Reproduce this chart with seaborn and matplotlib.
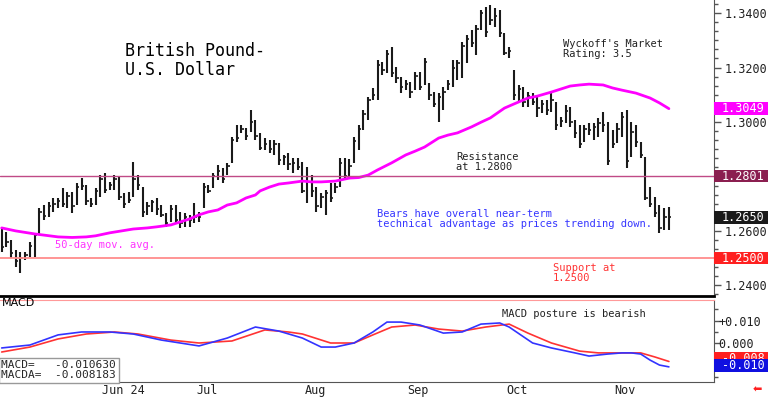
"""
GBP/USD daily bar chart with 50-day MA, resistance/support lines and a MACD panel.
"""
import numpy as np
import pandas as pd
import matplotlib
matplotlib.use("Agg")
import matplotlib.pyplot as plt
import seaborn as sns
from matplotlib.patches import Rectangle
from matplotlib.transforms import blended_transform_factory
from matplotlib.ticker import MultipleLocator

# ---------- data ----------
highs = [
    1.2611, 1.2596, 1.2567, 1.2530, 1.2523, 1.2523, 1.2560, 1.2593, 1.2684, 1.2695,
    1.2706, 1.2721, 1.2721, 1.2758, 1.2743, 1.2743, 1.2776, 1.2794, 1.2769, 1.2721,
    1.2758, 1.2805, 1.2813, 1.2780, 1.2805, 1.2798, 1.2739, 1.2743, 1.2853, 1.2805,
    1.2761, 1.2706, 1.2714, 1.2721, 1.2695, 1.2666, 1.2695, 1.2695, 1.2670, 1.2666,
    1.2659, 1.2703, 1.2670, 1.2776, 1.2769, 1.2813, 1.2842, 1.2831, 1.2850, 1.2945,
    1.2989, 1.2989, 1.2978, 1.3044, 1.3007, 1.2960, 1.2941, 1.2934, 1.2934, 1.2923,
    1.2879, 1.2886, 1.2868, 1.2868, 1.2853, 1.2835, 1.2805, 1.2761, 1.2739, 1.2750,
    1.2776, 1.2776, 1.2868, 1.2868, 1.2864, 1.2945, 1.2989, 1.3044, 1.3092, 1.3125,
    1.3228, 1.3220, 1.3264, 1.3275, 1.3202, 1.3165, 1.3154, 1.3147, 1.3183, 1.3183,
    1.3235, 1.3143, 1.3110, 1.3106, 1.3128, 1.3154, 1.3228, 1.3228, 1.3294, 1.3319,
    1.3338, 1.3356, 1.3411, 1.3422, 1.3429, 1.3418, 1.3411, 1.3327, 1.3275, 1.3191,
    1.3136, 1.3128, 1.3110, 1.3106, 1.3092, 1.3081, 1.3081, 1.3106, 1.3073, 1.3018,
    1.3062, 1.3055, 1.3007, 1.2989, 1.2989, 1.2996, 1.2996, 1.3015, 1.3037, 1.3000,
    1.2971, 1.2996, 1.3037, 1.3044, 1.3000, 1.2989, 1.2927, 1.2872, 1.2761, 1.2725,
    1.2695, 1.2684, 1.2688,
]
lows = [
    1.2523, 1.2541, 1.2501, 1.2468, 1.2446, 1.2494, 1.2505, 1.2505, 1.2585, 1.2640,
    1.2651, 1.2670, 1.2684, 1.2688, 1.2684, 1.2666, 1.2695, 1.2750, 1.2695, 1.2688,
    1.2695, 1.2725, 1.2739, 1.2750, 1.2750, 1.2714, 1.2684, 1.2703, 1.2725, 1.2750,
    1.2651, 1.2659, 1.2670, 1.2659, 1.2651, 1.2615, 1.2633, 1.2629, 1.2611, 1.2615,
    1.2615, 1.2629, 1.2633, 1.2684, 1.2739, 1.2758, 1.2787, 1.2776, 1.2805, 1.2850,
    1.2927, 1.2960, 1.2934, 1.2963, 1.2934, 1.2897, 1.2897, 1.2886, 1.2879, 1.2842,
    1.2842, 1.2824, 1.2813, 1.2824, 1.2739, 1.2703, 1.2725, 1.2670, 1.2684, 1.2659,
    1.2706, 1.2739, 1.2761, 1.2794, 1.2798, 1.2850, 1.2897, 1.2971, 1.3007, 1.3081,
    1.3081, 1.3172, 1.3180, 1.3165, 1.3143, 1.3106, 1.3117, 1.3088, 1.3117, 1.3117,
    1.3136, 1.3081, 1.3055, 1.3000, 1.3044, 1.3117, 1.3128, 1.3154, 1.3161, 1.3216,
    1.3275, 1.3246, 1.3338, 1.3312, 1.3356, 1.3349, 1.3312, 1.3246, 1.3235, 1.3081,
    1.3070, 1.3055, 1.3055, 1.3062, 1.3018, 1.3033, 1.3026, 1.3037, 1.2971, 1.2982,
    1.2996, 1.2982, 1.2941, 1.2905, 1.2927, 1.2952, 1.2934, 1.2945, 1.2963, 1.2842,
    1.2905, 1.2923, 1.2945, 1.2831, 1.2872, 1.2908, 1.2868, 1.2714, 1.2688, 1.2651,
    1.2593, 1.2604, 1.2604,
]
closes = [
    1.2540, 1.2560, 1.2520, 1.2490, 1.2500, 1.2510, 1.2545, 1.2585, 1.2670, 1.2655,
    1.2690, 1.2700, 1.2710, 1.2700, 1.2730, 1.2690, 1.2760, 1.2765, 1.2710, 1.2700,
    1.2745, 1.2790, 1.2750, 1.2770, 1.2790, 1.2725, 1.2700, 1.2715, 1.2790, 1.2770,
    1.2670, 1.2690, 1.2705, 1.2680, 1.2660, 1.2630, 1.2680, 1.2640, 1.2630, 1.2650,
    1.2640, 1.2650, 1.2650, 1.2760, 1.2745, 1.2800, 1.2820, 1.2790, 1.2840, 1.2935,
    1.2940, 1.2975, 1.2950, 1.3000, 1.2950, 1.2905, 1.2920, 1.2900, 1.2920, 1.2860,
    1.2870, 1.2845, 1.2850, 1.2835, 1.2745, 1.2780, 1.2745, 1.2690, 1.2725, 1.2740,
    1.2720, 1.2760, 1.2850, 1.2800, 1.2840, 1.2930, 1.2975, 1.3030, 1.3080, 1.3100,
    1.3210, 1.3190, 1.3250, 1.3180, 1.3160, 1.3130, 1.3140, 1.3110, 1.3170, 1.3130,
    1.3220, 1.3100, 1.3065, 1.3090, 1.3110, 1.3140, 1.3200, 1.3215, 1.3280, 1.3305,
    1.3290, 1.3340, 1.3400, 1.3330, 1.3375, 1.3390, 1.3325, 1.3255, 1.3260, 1.3100,
    1.3120, 1.3075, 1.3095, 1.3075, 1.3050, 1.3065, 1.3045, 1.3080, 1.2990, 1.3005,
    1.3040, 1.3000, 1.2960, 1.2920, 1.2975, 1.2970, 1.2980, 1.2995, 1.2990, 1.2855,
    1.2920, 1.2975, 1.3020, 1.2855, 1.2965, 1.2925, 1.2880, 1.2720, 1.2700, 1.2665,
    1.2610, 1.2650, 1.2650,
]

# 50-day moving average, sampled along the curve
ma_day = [0, 3, 7, 12, 15, 18, 20, 23, 28, 31, 33, 36, 38, 40, 42, 44, 46, 48,
          50, 52, 54, 55, 57, 59, 61, 64, 66, 68, 71, 74, 76, 78, 80, 83, 86,
          88, 90, 93, 95, 97, 100, 102, 104, 107, 109, 112, 114, 117, 119, 121,
          123, 125, 128, 130, 132, 135, 138, 140, 142]
ma_val = [1.2611, 1.2600, 1.2589, 1.2578, 1.2576, 1.2578, 1.2582, 1.2593, 1.2607,
          1.2611, 1.2615, 1.2622, 1.2633, 1.2644, 1.2659, 1.2670, 1.2677, 1.2695,
          1.2703, 1.2721, 1.2732, 1.2747, 1.2761, 1.2772, 1.2776, 1.2783, 1.2780,
          1.2780, 1.2783, 1.2794, 1.2796, 1.2805, 1.2824, 1.2850, 1.2879, 1.2893,
          1.2908, 1.2941, 1.2952, 1.2960, 1.2982, 1.2999, 1.3015, 1.3051, 1.3066,
          1.3088, 1.3095, 1.3110, 1.3121, 1.3132, 1.3136, 1.3139, 1.3136, 1.3125,
          1.3117, 1.3106, 1.3088, 1.3070, 1.3049]

# MACD (blue) and MACD average (red)
macd_day = [0, 6, 12, 17, 23, 28, 34, 42, 48, 54, 59, 64, 68, 71, 75, 79, 82, 85,
            89, 94, 98, 102, 106, 108, 113, 117, 122, 125, 129, 132, 134, 136,
            138, 140, 142]
macd_val = [-0.0022, -0.0009, 0.0036, 0.0049, 0.0049, 0.0040, 0.0013, -0.0013,
            0.0022, 0.0071, 0.0053, 0.0022, -0.0018, -0.0018, 0.0000, 0.0049,
            0.0093, 0.0093, 0.0080, 0.0044, 0.0049, 0.0084, 0.0089, 0.0071,
            0.0000, -0.0022, -0.0044, -0.0058, -0.0049, -0.0044, -0.0044,
            -0.0049, -0.0076, -0.0098, -0.0106]
macda_day = [0, 6, 12, 18, 24, 29, 36, 42, 49, 56, 61, 64, 70, 75, 79, 83, 88,
             93, 98, 103, 108, 112, 117, 123, 127, 132, 136, 139, 142]
macda_val = [-0.0040, -0.0018, 0.0018, 0.0040, 0.0049, 0.0040, 0.0013, 0.0000,
             0.0009, 0.0058, 0.0049, 0.0040, 0.0000, 0.0000, 0.0036, 0.0071,
             0.0080, 0.0062, 0.0053, 0.0071, 0.0084, 0.0044, 0.0000, -0.0036,
             -0.0044, -0.0044, -0.0044, -0.0062, -0.0082]

month_day = [21, 41, 64, 86, 107, 130]
month_lbl = ["Jun 24", "Jul", "Aug", "Sep", "Oct", "Nov"]

price_ticks = [1.24, 1.26, 1.28, 1.30, 1.32, 1.34]
price_tick_lbl = ["1.2400", "1.2600", "", "1.3000", "1.3200", "1.3400"]

RESIST, SUPPORT = 1.2800, 1.2500
last_close, last_ma = 1.2650, 1.3049
macd_last, macda_last = -0.010630, -0.008183

# ---------- figure ----------
sns.set_style("white")
plt.rcParams["font.family"] = ["DejaVu Sans Mono", "DejaVu Sans"]

W, H = 768, 397
fig = plt.figure(figsize=(W / 100, H / 100), dpi=100)


def fx(x):
    return x / W


def fy(y):
    return 1 - y / H


ax = fig.add_axes([0, fy(296), fx(714), 296 / H])
axm = fig.add_axes([0, fy(382), fx(714), (382 - 300) / H])

days = np.arange(len(highs))
ax.vlines(days, lows, highs, color="#1a1a1a", lw=1.5)
ax.hlines(closes, days, days + 0.5, color="#1a1a1a", lw=1.2)
sns.lineplot(x=ma_day, y=ma_val, color="#ff00ff", lw=2, ax=ax)
ax.axhline(RESIST, color="#c04a86", lw=1)
ax.axhline(SUPPORT, color="#ff8c8c", lw=1.3)

ax.set_xlim(-0.36, 151.6)
ax.set_ylim(1.2361, 1.3448)
ax.set_xticks([])
ax.set_xlabel("")
ax.set_ylabel("")
ax.yaxis.tick_right()
ax.set_yticks(price_ticks)
ax.set_yticklabels(price_tick_lbl)
ax.yaxis.set_minor_locator(MultipleLocator(0.02 / 6))
ax.tick_params(axis="y", which="major", direction="out", length=5, width=1,
               color="#555555", labelsize=8.5, labelcolor="#222222", pad=3)
ax.tick_params(axis="y", which="minor", direction="out", length=3, width=1,
               color="#555555")
for s in ("top", "left"):
    ax.spines[s].set_visible(False)
ax.spines["bottom"].set_color("black")
ax.spines["bottom"].set_linewidth(2)
ax.spines["right"].set_color("#555555")

# MACD panel
sns.lineplot(x=macda_day, y=macda_val, color="#ff3333", lw=1.2, ax=axm)
sns.lineplot(x=macd_day, y=macd_val, color="#3333ff", lw=1.2, ax=axm)
axm.set_xlim(-0.36, 151.6)
axm.set_ylim(-0.01733, 0.01911)
axm.set_xlabel("")
axm.set_ylabel("")
axm.yaxis.tick_right()
axm.set_yticks([0.0, 0.01])
axm.set_yticklabels(["0.000", "+0.010"])
axm.yaxis.set_minor_locator(MultipleLocator(0.005))
axm.tick_params(axis="y", which="major", direction="out", length=5, width=1,
                color="#555555", labelsize=8.5, labelcolor="#222222", pad=-2)
axm.tick_params(axis="y", which="minor", direction="out", length=3, width=1,
                color="#555555")
axm.set_xticks(month_day)
axm.set_xticklabels([""] * len(month_day))
axm.tick_params(axis="x", direction="out", length=15, width=1, color="#777777")
axm.spines["left"].set_visible(False)
axm.spines["top"].set_color("#ff9999")
for s in ("bottom", "right"):
    axm.spines[s].set_color("#555555")

trx = blended_transform_factory(axm.transData, axm.transAxes)
for d, lbl in zip(month_day, month_lbl):
    axm.text(d + 0.4, -0.03, lbl, transform=trx, ha="left", va="top",
             fontsize=8.5, color="#222222", clip_on=False)


# value tags in the right margin
def tag(a, v, h, text, fc, fg="white", z=5):
    tr = blended_transform_factory(a.transAxes, a.transData)
    a.add_patch(Rectangle((1.0, v - h / 2), 54 / 714, h, transform=tr,
                          fc=fc, ec="none", clip_on=False, zorder=z))
    a.text(1.0 + 8 / 714, v, text, transform=tr, ha="left", va="center",
           color=fg, fontsize=8.5, clip_on=False, zorder=z + 0.5)


tag(ax, last_ma, 0.0046, "1.3049", "#ff00ff")
tag(ax, 1.2801, 0.0046, "1.2801", "#8b1f50")
tag(ax, last_close, 0.0046, "1.2650", "#1a1a1a")
tag(ax, SUPPORT, 0.0046, "1.2500", "#ff2020")
# red MACDA tag sits just above, mostly hidden by the blue MACD tag
tag(axm, -0.0070, 0.0058, "-0.008", "#ff2020", z=5)
tag(axm, -0.0100, 0.0058, "-0.010", "#1010e0", z=7)

# annotations
fig.text(fx(125), fy(42), "British Pound-\nU.S. Dollar", fontsize=12,
         va="top", ha="left", linespacing=1.05, color="black")
fig.text(fx(563), fy(39), "Wyckoff's Market\nRating: 3.5", fontsize=7.5,
         va="top", ha="left", linespacing=1.0, color="#222222")
fig.text(fx(456), fy(152), "Resistance\nat 1.2800", fontsize=7.5,
         va="top", ha="left", linespacing=1.0, color="#222222")
fig.text(fx(377), fy(209), "Bears have overall near-term\n"
         "technical advantage as prices trending down.", fontsize=7.5,
         va="top", ha="left", linespacing=1.0, color="#3535ff")
fig.text(fx(55), fy(240), "50-day mov. avg.", fontsize=7.5,
         va="top", ha="left", color="#ff33ff")
fig.text(fx(553), fy(263), "Support at\n1.2500", fontsize=7.5,
         va="top", ha="left", linespacing=1.0, color="#ff3333")
fig.text(fx(502), fy(309), "MACD posture is bearish", fontsize=7.5,
         va="top", ha="left", color="#222222")
fig.text(fx(2), fy(298), "MACD", fontsize=8, va="top", ha="left",
         family="DejaVu Sans", color="black")
axm.text(0.002, 0.02, f"MACD=   {macd_last:.6f}\nMACDA=  {macda_last:.6f}",
         transform=axm.transAxes, fontsize=8, va="bottom", ha="left",
         linespacing=1.0, zorder=9,
         bbox=dict(boxstyle="square,pad=0.25", fc="white", ec="#999999"))
fig.text(fx(757), fy(390), "\u2B05", fontsize=8, color="#ff2020",
         ha="center", va="center", family=["DejaVu Sans"])

fig.savefig("out.png", dpi=100)
